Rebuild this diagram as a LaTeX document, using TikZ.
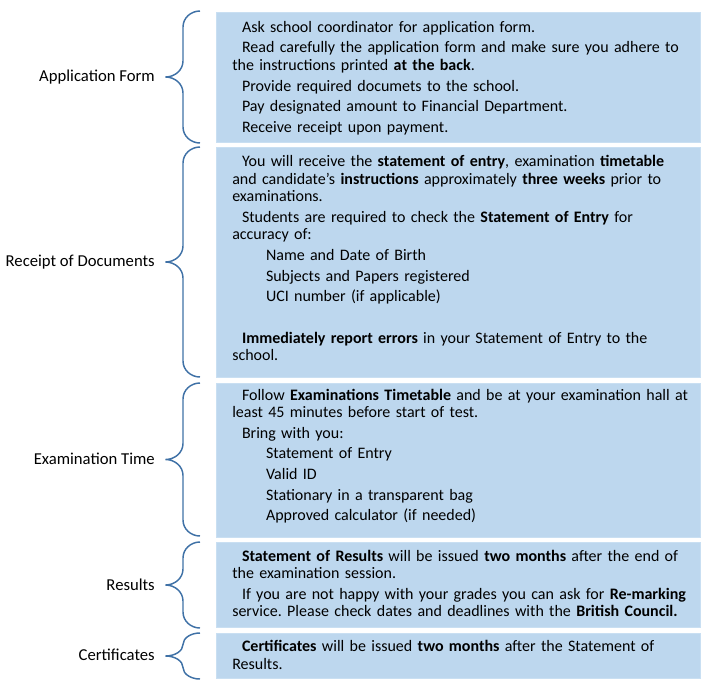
\documentclass[tikz,border=0pt]{standalone}
\usepackage{fontspec}
\setmainfont{Carlito}
\frenchspacing
\definecolor{boxfill}{HTML}{BDD7EE}
\definecolor{boxline}{HTML}{C9DFF2}
\definecolor{bracecol}{HTML}{3F71A6}
\newcommand\ind{\hspace*{7.3pt}}
\newcommand\subind{\hspace*{25.3pt}}
\tikzset{
  box/.style={fill=boxfill, draw=boxline, line width=0.75pt, inner sep=0pt, anchor=north west},
  txt/.style={anchor=base west, inner sep=0pt, text width=380pt,
    font=\fontsize{12}{13.1}\selectfont\setlength\parskip{2.4pt}\raggedright\frenchspacing},
  lbl/.style={anchor=base east, inner sep=0pt, font=\fontsize{12.5}{15}\selectfont},
  bracestyle/.style={draw=bracecol, line width=1.1pt}
}
\begin{document}
\begin{tikzpicture}[x=0.75pt,y=-0.75pt]
\useasboundingbox (0,0) rectangle (717,693);
% boxes
\node[box, minimum width=363pt, minimum height=97.5pt] (b1) at (216,12) {};
\node[box, minimum width=363pt, minimum height=172.5pt] (b2) at (216,147) {};
\node[box, minimum width=363pt, minimum height=115.5pt] (b3) at (216,383) {};
\node[box, minimum width=363pt, minimum height=63.75pt] (b4) at (216,542) {};
\node[box, minimum width=363pt, minimum height=33.75pt] (b5) at (216,633) {};
% braces
\foreach \t/\b in {11/143, 147/377, 383/536, 542/628, 633/679} {
  \pgfmathsetmacro\m{(\t+\b)/2}
  \pgfmathsetmacro\a{min(16,(\b-\t)/4)}
  \draw[bracestyle] (200,\t) .. controls (190.6,\t) and (183,{\t+0.448*\a}) .. (183,{\t+\a})
    -- (183,{\m-\a}) .. controls (183,{\m-0.448*\a}) and (175.2,\m) .. (165.5,\m)
    .. controls (175.2,\m) and (183,{\m+0.448*\a}) .. (183,{\m+\a})
    -- (183,{\b-\a}) .. controls (183,{\b-0.448*\a}) and (190.6,\b) .. (200,\b);
}
% labels
\node[lbl] (l1) at (155,81.5) {Application Form};
\node[lbl] (l2) at (155,266.5) {Receipt of Documents};
\node[lbl] (l3) at (155,464) {Examination Time};
\node[lbl] (l4) at (155,590) {Results};
\node[lbl] (l5) at (155,660.5) {Certificates};
% texts
\node[txt] (t1) at (232,32.3) {%
\ind Ask school coordinator for application form.\par
\ind Read carefully the application form and make sure you adhere to\newline the instructions printed \textbf{at the back}.\par
\ind Provide required documets to the school.\par
\ind Pay designated amount to Financial Department.\par
\ind Receive receipt upon payment.};
\node[txt] (t2) at (232,166.7) {%
\ind You will receive the \textbf{statement of entry}, examination \textbf{timetable}\newline and candidate's \textbf{instructions} approximately \textbf{three weeks} prior to\newline examinations.\par
\ind Students are required to check the \textbf{Statement of Entry} for\newline accuracy of:\par
\subind Name and Date of Birth\par
\subind Subjects and Papers registered\par
\subind UCI number (if applicable)\par
\mbox{}\par
\ind \textbf{Immediately report errors} in your Statement of Entry to the\newline school.};
\node[txt] (t3) at (232,400) {%
\ind Follow \textbf{Examinations Timetable} and be at your examination hall at\newline least 45 minutes before start of test.\par
\ind Bring with you:\par
\subind Statement of Entry\par
\subind Valid ID\par
\subind Stationary in a transparent bag\par
\subind Approved calculator (if needed)};
\node[txt] (t4) at (232,561) {%
\ind \textbf{Statement of Results} will be issued \textbf{two months} after the end of\newline the examination session.\par
\ind If you are not happy with your grades you can ask for \textbf{Re-marking}\newline service. Please check dates and deadlines with the \textbf{British Council.}};
\node[txt] (t5) at (232,651.7) {%
\ind \textbf{Certificates} will be issued \textbf{two months} after the Statement of\newline Results.};
\end{tikzpicture}
\end{document}
